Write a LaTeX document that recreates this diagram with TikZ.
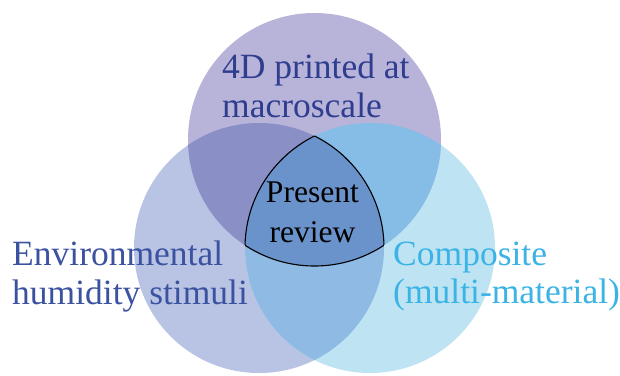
\documentclass[tikz,border=0pt]{standalone}
\usepackage{fontspec}
\setmainfont{Liberation Serif}
\definecolor{cTop}{HTML}{B7B3D9}
\definecolor{cLeft}{HTML}{B9C3E3}
\definecolor{cRight}{HTML}{BEE4F3}
\definecolor{cTL}{HTML}{8A90C6}
\definecolor{cTR}{HTML}{86BDE6}
\definecolor{cLR}{HTML}{8EBAE3}
\definecolor{cMid}{HTML}{6B93CB}
\definecolor{tTop}{HTML}{2F3D8F}
\definecolor{tLeft}{HTML}{3B52A0}
\definecolor{tRight}{HTML}{3BB3E5}
\tikzset{
  lbl/.style={inner sep=0pt, anchor=base west, align=left,
    font=\fontsize{35.5}{38.5}\selectfont},
  midlbl/.style={inner sep=0pt, anchor=base, align=center,
    font=\fontsize{31.6}{40}\selectfont, text=black},
}
\begin{document}
\begin{tikzpicture}[x=1pt,y=-1pt]
\def\topc{(314.5,139.5) circle [radius=126.5pt]}
\def\leftc{(259,248) circle [radius=125pt]}
\def\rightc{(370,248) circle [radius=125pt]}
\fill[white] (0,0) rectangle (620,375);
\useasboundingbox (0,0) rectangle (620,375);
% base circles
\fill[cLeft] \leftc;
\fill[cRight] \rightc;
\fill[cTop] \topc;
% pairwise overlaps
\begin{scope}
  \clip \topc;
  \fill[cTL] \leftc;
  \fill[cTR] \rightc;
\end{scope}
\begin{scope}
  \clip \leftc;
  \fill[cLR] \rightc;
\end{scope}
% centre
\begin{scope}
  \clip \topc;
  \clip \leftc;
  \fill[cMid] \rightc;
\end{scope}
% outline of centre
\begin{scope}
  \clip \leftc; \clip \rightc;
  \draw[black, line width=1.1pt] \topc;
\end{scope}
\begin{scope}
  \clip \topc; \clip \rightc;
  \draw[black, line width=1.1pt] \leftc;
\end{scope}
\begin{scope}
  \clip \topc; \clip \leftc;
  \draw[black, line width=1.1pt] \rightc;
\end{scope}
% labels (anchor = baseline of last line)
\node[lbl, text=tTop] (macro) at (222,117) {4D printed at\\macroscale};
\node[lbl, text=tLeft] (humid) at (12,304) {Environmental\\humidity stimuli};
\node[lbl, text=tRight] (comp) at (393,303.5) {Composite\\(multi-material)};
\node[midlbl] (present) at (312.5,242) {Present\\review};
\end{tikzpicture}
\end{document}
